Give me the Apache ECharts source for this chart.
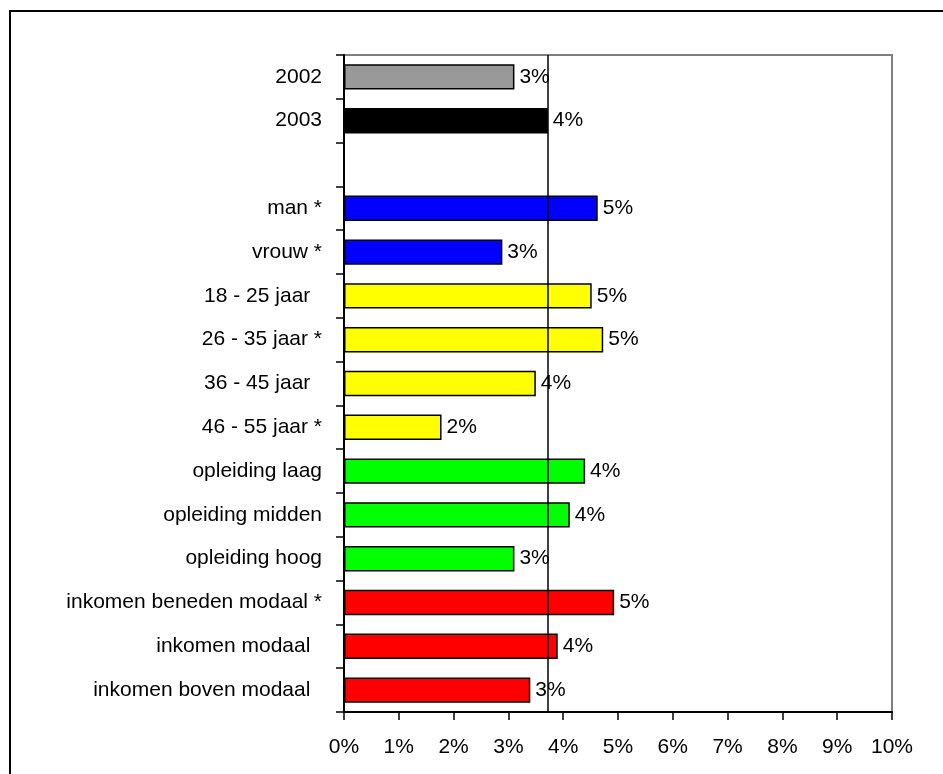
<!DOCTYPE html>
<html>
<head>
<meta charset="utf-8">
<script src="https://cdn.jsdelivr.net/npm/echarts@6/dist/echarts.min.js"></script>
<style>
html,body{margin:0;padding:0;background:#fff;}
#chart{width:943px;height:774px;}
</style>
</head>
<body>
<div id="chart"></div>
<script>
// ---- data ----
const categories = [
  "2002", "2003", "",
  "man *", "vrouw *",
  "18 - 25 jaar  ", "26 - 35 jaar *", "36 - 45 jaar  ", "46 - 55 jaar *",
  "opleiding laag", "opleiding midden", "opleiding hoog",
  "inkomen beneden modaal *", "inkomen modaal  ", "inkomen boven modaal  "
];
const values = [3.11, 3.72, null, 4.63, 2.89, 4.52, 4.73, 3.5, 1.78, 4.4, 4.12, 3.11, 4.93, 3.9, 3.4];
const referenceValue = 3.72;
const xTicks = [0,1,2,3,4,5,6,7,8,9,10];

// ---- styles ----
const barColors = ["#999999","#000000",null,"#0000ff","#0000ff","#ffff00","#ffff00","#ffff00","#ffff00","#00ff00","#00ff00","#00ff00","#ff0000","#ff0000","#ff0000"];
const FONT = "'Liberation Sans', Arial, sans-serif";
const FS = 21;

const chart = echarts.init(document.getElementById('chart'), null, {renderer:'canvas'});
const option = {
  animation: false,
  backgroundColor: '#ffffff',
  graphic: [{
    type: 'rect',
    shape: {x: 10, y: 11, width: 1000, height: 1000},
    style: {fill: 'none', stroke: '#000', lineWidth: 2},
    silent: true, z: 100
  }],
  grid: {
    left: 344, right: 51, top: 55, bottom: 62,
    show: true, borderColor: '#808080', borderWidth: 2, backgroundColor: 'transparent'
  },
  xAxis: {
    type: 'value', min: xTicks[0], max: xTicks[xTicks.length-1], interval: 1,
    axisLine: {show: true, lineStyle: {color: '#000', width: 2}},
    axisTick: {show: true, length: 8, lineStyle: {color: '#000', width: 1.5}},
    splitLine: {show: false},
    axisLabel: {formatter: v => v + '%', color: '#000', fontSize: FS, fontFamily: FONT, margin: 25}
  },
  yAxis: {
    type: 'category', data: categories, inverse: true,
    axisLine: {show: true, onZero: false, lineStyle: {color: '#000', width: 2}},
    axisTick: {show: true, length: 8, alignWithLabel: false, lineStyle: {color: '#000', width: 1.5}},
    axisLabel: {color: '#000', fontSize: FS, fontFamily: FONT, margin: 22},
    splitLine: {show: false}
  },
  series: [{
    type: 'bar',
    data: values.map((v, i) => ({
      value: v == null ? '-' : v,
      itemStyle: {color: barColors[i] || 'transparent', borderColor: '#000', borderWidth: 1.5}
    })),
    barCategoryGap: '42%',
    label: {
      show: true, position: 'right', distance: 5,
      formatter: p => (p.value === '-' || p.value == null) ? '' : Math.round(p.value) + '%',
      color: '#000', fontSize: FS, fontFamily: FONT
    },
    markLine: {
      silent: true, symbol: 'none', z: 10,
      label: {show: false},
      lineStyle: {color: '#000', width: 1.5, type: 'solid'},
      data: [{xAxis: referenceValue}]
    }
  }]
};
chart.setOption(option);
</script>
</body>
</html>
